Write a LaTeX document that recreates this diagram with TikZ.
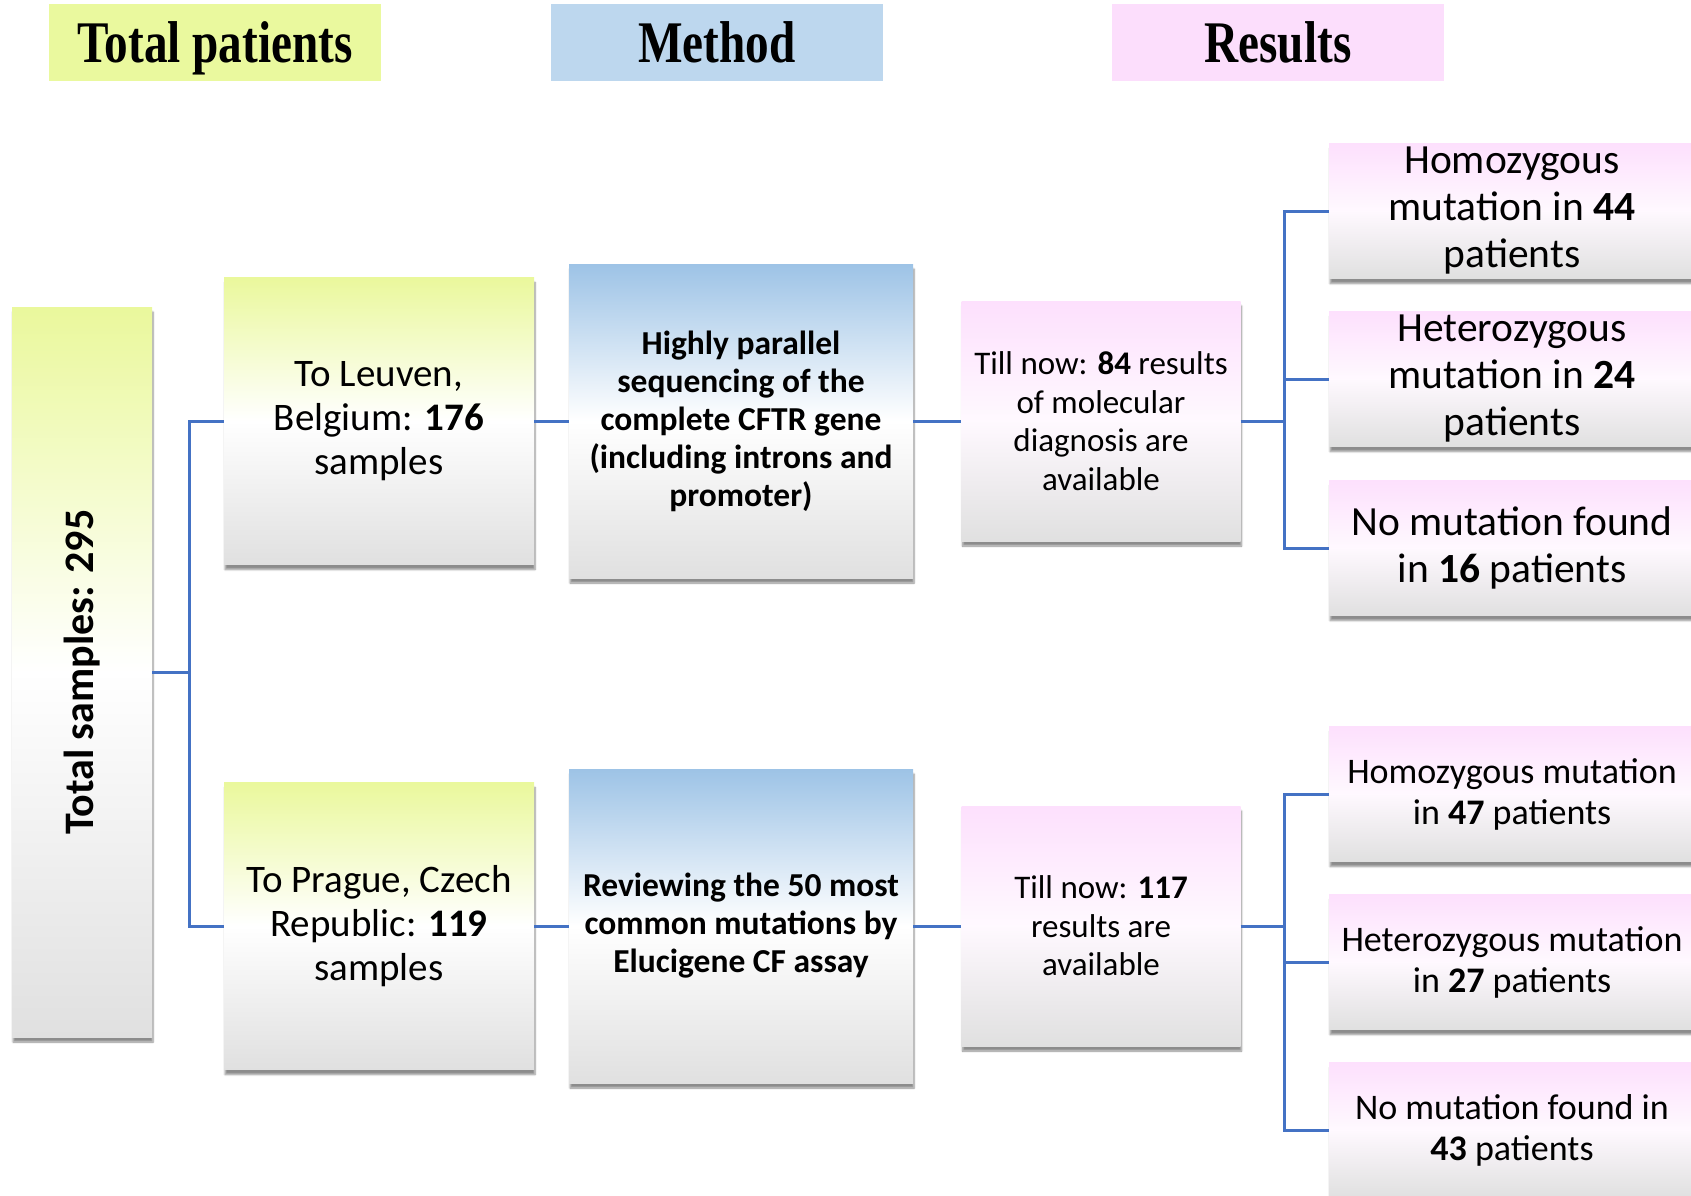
\documentclass[tikz,border=0pt]{standalone}
\usepackage{fontspec}
\setmainfont{Carlito}
\newfontfamily\headfont{Liberation Serif}
\usepackage{graphicx}
\usepackage{tikz}
\usetikzlibrary{shadows.blur}
\definecolor{headgreen}{RGB}{234,249,158}
\definecolor{headblue}{RGB}{189,215,238}
\definecolor{headpink}{RGB}{252,222,252}
\definecolor{topgreen}{RGB}{234,248,156}
\definecolor{topblue}{RGB}{157,195,230}
\definecolor{toppink}{RGB}{253,224,253}
\definecolor{boxgray}{RGB}{224,224,224}
\definecolor{linkblue}{RGB}{68,114,196}
\tikzset{
    head box/.style={minimum width=332pt,minimum height=77pt,inner sep=0pt,
        text height=40pt,text depth=0pt,
        font=\headfont\bfseries\fontsize{59}{60}\selectfont},
    shaded box/.style={inner sep=0pt,align=center,
        blur shadow={shadow xshift=1pt,shadow yshift=-5pt,shadow blur steps=6,shadow opacity=45}},
    green box/.style={shaded box,top color=topgreen,bottom color=boxgray,middle color=white},
    blue box/.style={shaded box,top color=topblue,bottom color=boxgray,middle color=white},
    pink box/.style={shaded box,top color=toppink,bottom color=boxgray,middle color=white!80!toppink},
    city/.style={green box,minimum width=310pt,minimum height=287pt,font=\fontsize{39}{44}\selectfont},
    method/.style={blue box,minimum width=344pt,minimum height=314pt,font=\bfseries\fontsize{33.5}{38}\selectfont},
    result/.style={pink box,minimum width=279pt,minimum height=240pt,font=\fontsize{33}{38.5}\selectfont},
    outcome/.style={pink box,minimum width=366pt,minimum height=135pt,font=\fontsize{41.5}{47}\selectfont},
    outcome small/.style={outcome,font=\fontsize{36}{41}\selectfont},
    link/.style={draw=linkblue,line width=3pt},
}

\begin{document}
\begin{tikzpicture}[x=1pt,y=-1pt]
    \useasboundingbox (0,0) rectangle (1691,1196);
    % column headers
    \node[head box,fill=headgreen] (hpat) at (215,43) {\scalebox{0.8}[1]{Total patients}};
    \node[head box,fill=headblue] (hmeth) at (717,43) {\scalebox{0.8}[1]{Method}};
    \node[head box,fill=headpink] (hres) at (1278,43) {\scalebox{0.8}[1]{Results}};

    % samples
    \node[green box,minimum width=140pt,minimum height=730pt,
        label={[rotate=90,font=\bfseries\fontsize{42}{44}\selectfont]center:Total samples: 295}] (total) at (82,672) {};
    \node[city] (leuven) at (379,421) {To Leuven,\\Belgium: \textbf{176}\\samples};
    \node[city] (prague) at (379,926) {To Prague, Czech\\Republic: \textbf{119}\\samples};

    % methods
    \node[method] (seq) at (741,421) {Highly parallel\\sequencing of the\\complete CFTR gene\\(including introns and\\promoter)};
    \node[method] (assay) at (741,926) {Reviewing the 50 most\\common mutations by\\Elucigene CF assay};

    % results
    \node[result] (res1) at (1101,421) {Till now: \textbf{84} results\\of molecular\\diagnosis are\\available};
    \node[result] (res2) at (1101,926) {Till now: \textbf{117}\\results are\\available};

    \node[outcome] (homo1) at (1512,211) {Homozygous\\mutation in \textbf{44}\\patients};
    \node[outcome] (hetero1) at (1512,379) {Heterozygous\\mutation in \textbf{24}\\patients};
    \node[outcome] (none1) at (1512,548) {No mutation found\\in \textbf{16} patients};
    \node[outcome small] (homo2) at (1512,794) {Homozygous mutation\\in \textbf{47} patients};
    \node[outcome small] (hetero2) at (1512,962) {Heterozygous mutation\\in \textbf{27} patients};
    \node[outcome small] (none2) at (1512,1130) {No mutation found in\\\textbf{43} patients};

    % connectors
    \coordinate (fork) at (189,672);
    \coordinate (fork1) at (1284,421);
    \coordinate (fork2) at (1284,926);
    \draw[link] (total.east) -- (fork) |- (leuven.west);
    \draw[link] (fork) |- (prague.west);
    \draw[link] (leuven) -- (seq) -- (res1) -- (fork1);
    \draw[link] (prague) -- (assay) -- (res2) -- (fork2);
    \draw[link] (homo1.west) -| (fork1) |- (none1.west);
    \draw[link] (fork1) |- (hetero1.west);
    \draw[link] (homo2.west) -| (fork2) |- (none2.west);
    \draw[link] (fork2) |- (hetero2.west);
\end{tikzpicture}
\end{document}
